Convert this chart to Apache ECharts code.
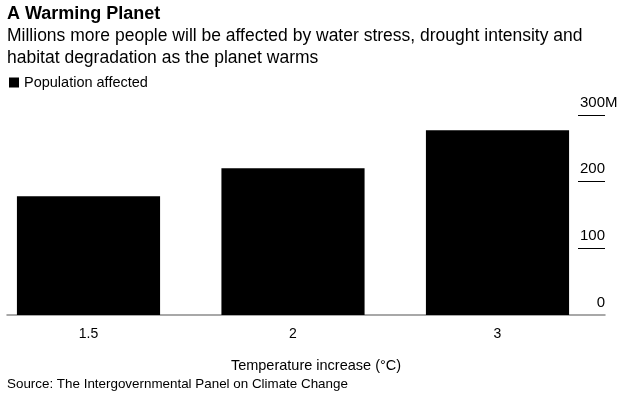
<!DOCTYPE html>
<html>
<head>
<meta charset="utf-8">
<script src="https://cdn.jsdelivr.net/npm/echarts@6/dist/echarts.min.js"></script>
<style>html,body{margin:0;padding:0;background:#fff}#c{width:627px;height:395px}</style>
</head>
<body>
<div id="c"></div>
<script>
const categories = ['1.5', '2', '3'];
const populationAffected = [178, 220, 277];
const seriesName = 'Population affected';

const FONT = '"Liberation Sans", Arial, sans-serif';
const chart = echarts.init(document.getElementById('c'), null, {renderer: 'canvas'});
chart.setOption({
  animation: false,
  backgroundColor: '#fff',
  textStyle: {fontFamily: FONT, color: '#000'},
  title: [{
    text: 'A Warming Planet',
    subtext: 'Millions more people will be affected by water stress, drought intensity and\nhabitat degradation as the planet warms',
    left: 2, top: 0, itemGap: 2,
    textStyle: {fontFamily: FONT, fontSize: 18, fontWeight: 'bold', color: '#000'},
    subtextStyle: {fontFamily: FONT, fontSize: 17.5, color: '#000', lineHeight: 22}
  }, {
    text: 'Source: The Intergovernmental Panel on Climate Change',
    left: 2, top: 373,
    textStyle: {fontFamily: FONT, fontSize: 13.4, fontWeight: 'normal', color: '#000'}
  }],
  legend: {
    data: [seriesName], left: 4, top: 70, icon: 'rect', itemWidth: 10, itemHeight: 10,
    textStyle: {fontFamily: FONT, fontSize: 14.5, color: '#000'}, selectedMode: false
  },
  grid: [
    {left: 88.5, width: 409, top: 115, bottom: 80},
    {left: 7, right: 22, top: 115, bottom: 80},
    {left: 578, right: 22, top: 115, bottom: 80}
  ],
  xAxis: [{
    type: 'category', gridIndex: 0, data: categories, boundaryGap: false,
    axisLine: {show: false}, axisTick: {show: false}, splitLine: {show: false},
    axisLabel: {fontFamily: FONT, fontSize: 14, color: '#000', margin: 12}
  }, {
    type: 'value', gridIndex: 1, min: 0, max: 1,
    axisLine: {show: true, lineStyle: {color: '#8c8c8c', width: 1.5}},
    axisTick: {show: false}, axisLabel: {show: false}, splitLine: {show: false},
    name: 'Temperature increase (°C)', nameLocation: 'middle', nameGap: 43,
    nameTextStyle: {fontFamily: FONT, fontSize: 14.5, color: '#000', padding: [0, 0, 0, 20]}
  }, {
    type: 'value', gridIndex: 2, min: 0, max: 1, show: false
  }],
  yAxis: [{
    type: 'value', gridIndex: 0, min: 0, max: 300, interval: 100, show: false
  }, {
    type: 'value', gridIndex: 1, position: 'right', min: 0, max: 300, interval: 100,
    axisLine: {show: false}, splitLine: {show: false}, axisTick: {show: false},
    axisLabel: {
      inside: true, margin: 0, fontFamily: FONT, fontSize: 15, color: '#000',
      verticalAlign: 'bottom', padding: [0, 0, 5, 0],
      formatter: function (v) { return v === 300 ? '{n|300}{m|M}' : String(v); },
      rich: {
        n: {fontFamily: FONT, fontSize: 15, color: '#000', align: 'left'},
        m: {fontFamily: FONT, fontSize: 15, color: '#000', align: 'left', width: 0}
      }
    }
  }, {
    type: 'value', gridIndex: 2, position: 'right', min: 0, max: 300, interval: 100,
    axisLine: {show: false}, axisTick: {show: false}, axisLabel: {show: false},
    splitLine: {show: true, showMinLine: false, lineStyle: {color: '#000', width: 1}}
  }],
  series: [{
    name: seriesName, type: 'bar', xAxisIndex: 0, yAxisIndex: 0, clip: false,
    data: populationAffected, barWidth: '70%', itemStyle: {color: '#000'}
  }]
});
</script>
</body>
</html>
